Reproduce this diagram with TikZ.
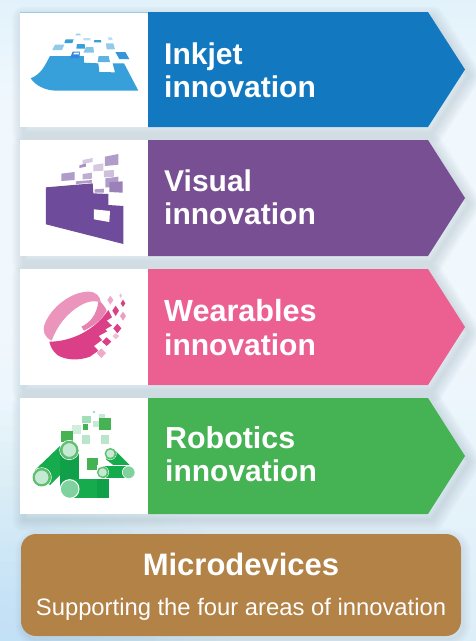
\documentclass[tikz,border=0pt]{standalone}
\usepackage{fontspec}
\setmainfont{Liberation Sans}
\definecolor{cblue}{HTML}{1279C1}
\definecolor{cpurple}{HTML}{784F93}
\definecolor{cpink}{HTML}{EC6091}
\definecolor{cgreen}{HTML}{45B254}
\definecolor{cbrown}{HTML}{B28247}
\definecolor{iblue}{HTML}{379FD9}
\definecolor{ipurple}{HTML}{6F4B9B}
\definecolor{ipink}{HTML}{DB3F87}
\definecolor{igreen}{HTML}{16AC4E}
\definecolor{igreend}{HTML}{0FA049}
\definecolor{BgBot}{HTML}{DCEEF8}
\definecolor{BgTop}{HTML}{F1F8FD}
\definecolor{BgHi}{HTML}{E2F2FB}
\definecolor{BgCorner}{HTML}{A8E0F6}
\definecolor{shadowc}{HTML}{33434F}
\tikzset{
  x=1pt,y=-1pt,
  title/.style={text=white,font=\fontsize{30}{33}\selectfont\bfseries,anchor=base west,inner sep=0pt},
  panelshadow/.style={draw=shadowc,draw opacity=.012,line join=round},
  ic/.style={x=.33333pt,y=-.33333pt},
  ringjoint/.style={fill=igreen!25!white,draw=cgreen!85!white},
  flatjoint/.style={fill=igreen!55!white,draw=white}
}
\newcommand{\rowpanel}[3]{% top y, bottom y, colour
  \foreach \w in {2,4,...,24}{
    \path[panelshadow,line width=\w pt,xshift=4pt,yshift=-6pt]
      (20,#1) -- (428,#1) -- (465,{(#1+#2)/2}) -- (428,#2) -- (20,#2) -- cycle;}
  \fill[white] (20,#1) rectangle (148,#2);
  \fill[#3] (148,#1) -- (428,#1) -- (465,{(#1+#2)/2}) -- (428,#2) -- (148,#2) -- cycle;
}
\newcommand{\tile}[2]{\fill[#1] #2 -- cycle;}
\begin{document}
\begin{tikzpicture}
\useasboundingbox (0,0) rectangle (476,641);
% background
\fill[BgTop] (0,0) rectangle (476,641);
\shade[top color=BgHi,bottom color=BgTop] (0,0) rectangle (476,110);
\shade[top color=BgTop,bottom color=BgBot] (0,320) rectangle (476,641);
\begin{scope}
\clip (0,0) rectangle (476,641);
\foreach \r in {20,35,...,230}{\fill[BgCorner,opacity=.03] (0,641) circle (\r);}
\end{scope}
% row panels
\rowpanel{12}{127}{cblue}
\rowpanel{140}{256}{cpurple}
\rowpanel{269}{385}{cpink}
\rowpanel{398}{514}{cgreen}
\draw[cblue!40!white,line width=.7pt] (20,12) -- (148,12);

% titles
\node[title] (t1a) at (164,64) {Inkjet};
\node[title] (t1b) at (164,97) {innovation};
\node[title] (t2a) at (164,191) {Visual};
\node[title] (t2b) at (164,224) {innovation};
\node[title,font=\fontsize{30.6}{33}\selectfont\bfseries] (t3a) at (164,321) {Wearables};
\node[title] (t3b) at (164,355) {innovation};
\node[title,font=\fontsize{30.4}{33}\selectfont\bfseries] (t4a) at (165,448) {Robotics};
\node[title] (t4b) at (165,481) {innovation};

% Microdevices
\foreach \w in {2,4,...,16}{
  \path[panelshadow,line width=\w pt,rounded corners=15pt,xshift=2pt,yshift=-3pt] (21,534) rectangle (461,636);}
\fill[cbrown,rounded corners=15pt] (21,534) rectangle (461,636);
\node[text=white,font=\fontsize{31}{33}\selectfont\bfseries,anchor=base,inner sep=0pt] (m1) at (241,575) {Microdevices};
\node[text=white,font=\fontsize{23.8}{26}\selectfont,anchor=base,inner sep=0pt] (m2) at (241,615) {Supporting the four areas of innovation};

% Inkjet icon
\begin{scope}[ic]
\fill[iblue] (92,235) .. controls (125,222) and (135,195) .. (150,168) -- (252,168) -- (252,188) -- (295,190) -- (298,216) -- (345,217) -- (338,190) -- (372,190) -- (415,272) -- (170,272) .. controls (135,272) and (105,255) .. (92,235) -- cycle;
\tile{iblue!85!blue}{(218,155) -- (240,155) -- (238,174) -- (210,174)}
\tile{white}{(222,158) -- (238,158) -- (236,163) -- (220,163)}
\tile{iblue!80!white}{(296,168) -- (326,168) -- (330,186) -- (293,186)}
\tile{iblue!95!blue}{(346,156) -- (376,156) -- (388,177) -- (358,177)}
\tile{iblue!55!white}{(165,134) -- (193,134) -- (186,150) -- (157,150)}
\tile{iblue}{(197,118) -- (221,118) -- (217,129) -- (193,129)}
\tile{iblue}{(231,132) -- (254,132) -- (255,146) -- (229,146)}
\tile{iblue!60!white}{(258,141) -- (280,141) -- (282,158) -- (250,158)}
\tile{iblue}{(283,120) -- (303,120) -- (304,127) -- (282,127)}
\tile{iblue!35!white}{(250,114) -- (270,114) -- (272,121) -- (250,121)}
\tile{iblue!55!white}{(318,130) -- (340,130) -- (345,148) -- (320,148)}
\tile{iblue!35!white}{(324,112) -- (335,112) -- (338,120) -- (326,120)}
\tile{iblue!50!white}{(228,101) -- (240,101) -- (243,106) -- (228,106)}
\end{scope}

% Visual icon
\begin{scope}[ic,yshift=-130pt]
\fill[ipurple] (138,172) -- (278,160) -- (280,190) -- (325,192) -- (325,225) -- (370,228) -- (370,342) -- (138,283) -- cycle;
\tile{white}{(282,238) -- (330,243) -- (328,276) -- (282,268)}
\tile{ipurple!55!white}{(315,80) -- (355,72) -- (355,104) -- (315,108)}
\tile{ipurple!30!white}{(280,105) -- (310,100) -- (310,122) -- (280,124)}
\tile{ipurple!30!white}{(248,90) -- (278,84) -- (278,96) -- (248,102)}
\tile{ipurple!60!white}{(238,106) -- (258,100) -- (258,110) -- (238,114)}
\tile{ipurple!55!white}{(184,131) -- (224,126) -- (224,150) -- (184,153)}
\tile{ipurple!45!white}{(248,132) -- (276,128) -- (276,146) -- (248,148)}
\tile{ipurple!35!white}{(312,122) -- (342,120) -- (342,140) -- (312,142)}
\tile{ipurple!55!white}{(228,154) -- (276,150) -- (276,158) -- (228,162)}
\tile{ipurple!55!white}{(316,145) -- (355,140) -- (355,172) -- (316,172)}
\tile{ipurple!70!white}{(328,157) -- (368,154) -- (368,188) -- (328,186)}
\tile{ipurple!55!white}{(284,178) -- (312,176) -- (312,188) -- (284,188)}
\end{scope}

% Wearables icon
\begin{scope}[ic,yshift=-260pt]
\fill[ipink!55!white] (155,242) .. controls (135,232) and (125,215) .. (135,190) .. controls (155,140) and (215,95) .. (265,95) .. controls (288,95) and (300,108) .. (303,128) -- (295,125) .. controls (275,120) and (255,128) .. (240,137) .. controls (200,160) and (170,200) .. (155,242) -- cycle;
\fill[ipink!65!white] (244,200) .. controls (270,188) and (290,165) .. (295,125) -- (304,128) .. controls (310,135) and (318,145) .. (320,152) .. controls (305,180) and (280,198) .. (252,212) -- cycle;
\fill[ipink] (148,245) .. controls (215,245) and (285,210) .. (325,150) -- (336,172) -- (320,182) -- (336,197) -- (316,208) -- (322,214) -- (296,228) -- (306,240) -- (282,258) -- (295,272) -- (270,290) .. controls (235,303) and (195,300) .. (172,285) .. controls (160,275) and (152,262) .. (148,245) -- cycle;
\tile{ipink}{(347,137) -- (357,152) -- (347,168) -- (337,152)}
\tile{ipink!45!white}{(331,107) -- (340,120) -- (331,134) -- (322,120)}
\tile{ipink}{(369,119) -- (376,130) -- (369,141) -- (362,130)}
\tile{ipink!35!white}{(362,100) -- (366,107) -- (362,114) -- (358,107)}
\tile{ipink!50!white}{(369,155) -- (378,168) -- (369,182) -- (360,168)}
\tile{ipink}{(352,191) -- (364,205) -- (352,220) -- (340,205)}
\tile{ipink!35!white}{(347,220) -- (358,228) -- (347,238) -- (338,228)}
\tile{ipink}{(320,232) -- (334,245) -- (320,258) -- (306,245)}
\tile{ipink!45!white}{(304,265) -- (318,279) -- (304,294) -- (290,279)}
\end{scope}

% Robotics icon
\begin{scope}[ic,yshift=-390pt]
\tile{igreen!40!white}{(246,77) -- (272,77) -- (272,100) -- (246,100)}
\tile{igreen!25!white}{(298,72) -- (314,72) -- (314,84) -- (298,84)}
\tile{igreen!40!white}{(279,62) -- (285,62) -- (285,68) -- (279,68)}
\tile{igreen!25!white}{(280,94) -- (296,94) -- (296,110) -- (280,110)}
\tile{cgreen}{(298,83) -- (333,83) -- (333,120) -- (298,120)}
\tile{cgreen}{(250,103) -- (265,103) -- (265,120) -- (250,120)}
\tile{igreen!20!white}{(217,106) -- (243,106) -- (243,132) -- (217,132)}
\tile{cgreen}{(184,123) -- (219,123) -- (219,157) -- (184,157)}
\tile{igreen!30!white}{(246,136) -- (271,136) -- (271,162) -- (246,162)}
\tile{igreen!30!white}{(303,136) -- (328,136) -- (328,162) -- (303,162)}
\tile{cgreen}{(260,203) -- (295,203) -- (295,240) -- (260,240)}
% arms
\fill[igreen] (105,240) -- (180,168) -- (236,200) -- (150,285) -- cycle;
\fill[igreend] (180,180) -- (236,180) -- (236,296) -- (180,296) -- cycle;
\fill[igreen] (210,268) -- (326,268) -- (326,325) -- (210,325) -- cycle;
\fill[igreend] (290,268) -- (326,268) -- (326,325) -- (290,325) -- cycle;
\fill[igreen] (322,178) -- (342,178) -- (392,228) -- (372,250) -- (318,208) -- cycle;
\fill[white] (292,226) -- (392,226) -- (392,268) -- (292,268) -- cycle;
\fill[igreen] (308,229) -- (386,229) -- (386,265) -- (308,265) -- cycle;
% joints
\draw[white,line width=.7pt] (208,180) circle (29);
\filldraw[ringjoint,line width=2.2pt] (208,180) circle (24);
\draw[white,line width=.7pt] (125,262) circle (29);
\filldraw[ringjoint,line width=2.2pt] (125,262) circle (24);
\filldraw[flatjoint,line width=1pt] (209,297) circle (28);
\draw[white,line width=.5pt] (331,191) circle (18);
\filldraw[ringjoint,line width=1.4pt] (331,191) circle (15);
\draw[white,line width=.5pt] (308,247) circle (18);
\filldraw[ringjoint,line width=1.4pt] (308,247) circle (15);
\filldraw[flatjoint,line width=.6pt] (386,247) circle (19);
\end{scope}
\end{tikzpicture}
\end{document}
